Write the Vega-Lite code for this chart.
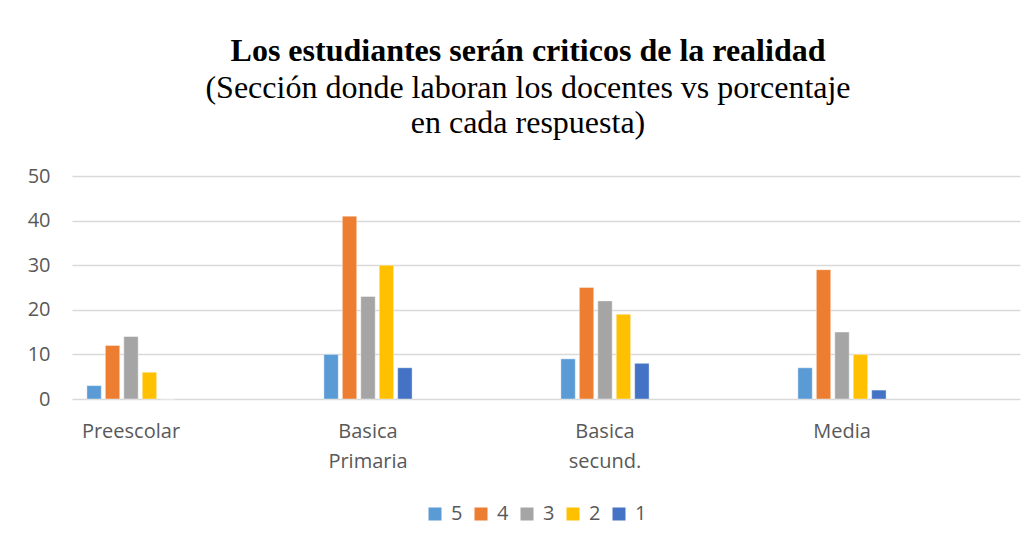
{
  "$schema": "https://vega.github.io/schema/vega-lite/v6.json",
  "autosize": {"type": "none"},
  "width": 948,
  "height": 223,
  "padding": {"left": 72, "top": 176, "right": 14, "bottom": 144},
  "background": "white",
  "title": {
    "text": "Los estudiantes serán criticos de la realidad",
    "subtitle": ["(Sección donde laboran los docentes vs porcentaje", "en cada respuesta)"],
    "anchor": "middle",
    "dx": -18,
    "offset": 26,
    "font": "Liberation Serif",
    "fontSize": 32,
    "fontWeight": "bold",
    "color": "#000000",
    "subtitleFont": "Liberation Serif",
    "subtitleFontSize": 32,
    "subtitleColor": "#000000",
    "subtitleLineHeight": 35,
    "subtitlePadding": 5
  },
  "data": {
    "values": [
      {"seccion": "Preescolar", "respuesta": "5", "porcentaje": 3},
      {"seccion": "Preescolar", "respuesta": "4", "porcentaje": 12},
      {"seccion": "Preescolar", "respuesta": "3", "porcentaje": 14},
      {"seccion": "Preescolar", "respuesta": "2", "porcentaje": 6},
      {"seccion": "Preescolar", "respuesta": "1", "porcentaje": 0},
      {"seccion": "Basica Primaria", "respuesta": "5", "porcentaje": 10},
      {"seccion": "Basica Primaria", "respuesta": "4", "porcentaje": 41},
      {"seccion": "Basica Primaria", "respuesta": "3", "porcentaje": 23},
      {"seccion": "Basica Primaria", "respuesta": "2", "porcentaje": 30},
      {"seccion": "Basica Primaria", "respuesta": "1", "porcentaje": 7},
      {"seccion": "Basica secund.", "respuesta": "5", "porcentaje": 9},
      {"seccion": "Basica secund.", "respuesta": "4", "porcentaje": 25},
      {"seccion": "Basica secund.", "respuesta": "3", "porcentaje": 22},
      {"seccion": "Basica secund.", "respuesta": "2", "porcentaje": 19},
      {"seccion": "Basica secund.", "respuesta": "1", "porcentaje": 8},
      {"seccion": "Media", "respuesta": "5", "porcentaje": 7},
      {"seccion": "Media", "respuesta": "4", "porcentaje": 29},
      {"seccion": "Media", "respuesta": "3", "porcentaje": 15},
      {"seccion": "Media", "respuesta": "2", "porcentaje": 10},
      {"seccion": "Media", "respuesta": "1", "porcentaje": 2}
    ]
  },
  "mark": {"type": "bar", "stroke": "#ffffff", "strokeOpacity": 0.5, "strokeWidth": 0.8},
  "encoding": {
    "x": {
      "field": "seccion",
      "type": "nominal",
      "sort": ["Preescolar", "Basica Primaria", "Basica secund.", "Media"],
      "scale": {"paddingInner": 0.62, "paddingOuter": 0.31, "align": 0.095},
      "axis": {
        "title": null,
        "labelAngle": 0,
        "domain": false,
        "ticks": false,
        "labelPadding": 22,
        "labelFont": "Open Sans",
        "labelFontSize": 20,
        "labelColor": "#595959",
        "labelLineHeight": 30,
        "labelExpr": "split(datum.label, ' ')"
      }
    },
    "xOffset": {
      "field": "respuesta",
      "type": "nominal",
      "sort": ["5", "4", "3", "2", "1"],
      "scale": {"paddingInner": 0.22, "paddingOuter": 0.05}
    },
    "y": {
      "field": "porcentaje",
      "type": "quantitative",
      "scale": {"domain": [0, 50]},
      "axis": {
        "title": null,
        "values": [0, 10, 20, 30, 40, 50],
        "domain": false,
        "ticks": false,
        "labelPadding": 22,
        "labelFont": "Open Sans",
        "labelFontSize": 20,
        "labelColor": "#595959",
        "gridColor": "#d9d9d9",
        "gridWidth": 1.5
      }
    },
    "color": {
      "field": "respuesta",
      "type": "nominal",
      "sort": ["5", "4", "3", "2", "1"],
      "scale": {
        "domain": ["5", "4", "3", "2", "1"],
        "range": ["#5B9BD5", "#ED7D31", "#A5A5A5", "#FFC000", "#4472C4"]
      },
      "legend": {
        "title": null,
        "orient": "none",
        "direction": "horizontal",
        "legendX": 353,
        "legendY": 328,
        "symbolType": "square",
        "symbolSize": 169,
        "symbolStrokeWidth": 0,
        "labelFont": "Open Sans",
        "labelFontSize": 20,
        "labelColor": "#595959",
        "labelOffset": 6,
        "columnPadding": 8
      }
    }
  },
  "config": {
    "view": {"stroke": null}
  }
}
